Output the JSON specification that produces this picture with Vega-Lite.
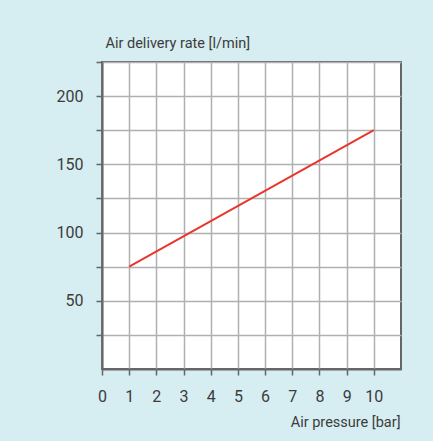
{
  "$schema": "https://vega.github.io/schema/vega-lite/v6.json",
  "width": 299,
  "height": 307,
  "autosize": {"type": "none"},
  "padding": {"left": 102, "top": 62, "right": 32, "bottom": 72},
  "background": "#d6edf1",
  "config": {
    "view": {"fill": "white", "stroke": "#666666", "strokeWidth": 2},
    "axis": {
      "labelFont": "Roboto",
      "labelFontSize": 16,
      "labelColor": "#3c3c3c",
      "labelPadding": 13,
      "tickSize": 6,
      "tickColor": "#666666",
      "tickWidth": 1.5,
      "domainColor": "#666666",
      "domainWidth": 2,
      "gridColor": "#b0b0b0",
      "gridWidth": 1.5,
      "gridOpacity": 1,
      "titleFont": "Roboto",
      "titleFontSize": 14.5,
      "titleFontWeight": "normal",
      "titleColor": "#3c3c3c"
    }
  },
  "data": {
    "values": [
      {"pressure": 1, "rate": 75},
      {"pressure": 10, "rate": 175}
    ]
  },
  "mark": {"type": "line", "color": "#e8362e", "strokeWidth": 2},
  "encoding": {
    "x": {
      "field": "pressure",
      "type": "quantitative",
      "scale": {"domain": [0, 11], "nice": false, "zero": false},
      "axis": {
        "values": [0, 1, 2, 3, 4, 5, 6, 7, 8, 9, 10],
        "title": "Air pressure [bar]",
        "titleX": 298,
        "titleY": 57,
        "titleAlign": "right",
        "titleAnchor": null,
        "titleBaseline": "alphabetic",
        "labelFlush": false
      }
    },
    "y": {
      "field": "rate",
      "type": "quantitative",
      "scale": {"domain": [0, 225], "nice": false},
      "axis": {
        "values": [25, 50, 75, 100, 125, 150, 175, 200, 225],
        "labelExpr": "datum.value % 50 == 0 && datum.value < 225 ? datum.label : ''",
        "title": "Air delivery rate [l/min]",
        "titleAngle": 0,
        "titleX": 3,
        "titleY": -15,
        "titleAlign": "left",
        "titleBaseline": "alphabetic",
        "labelFlush": false
      }
    }
  }
}
